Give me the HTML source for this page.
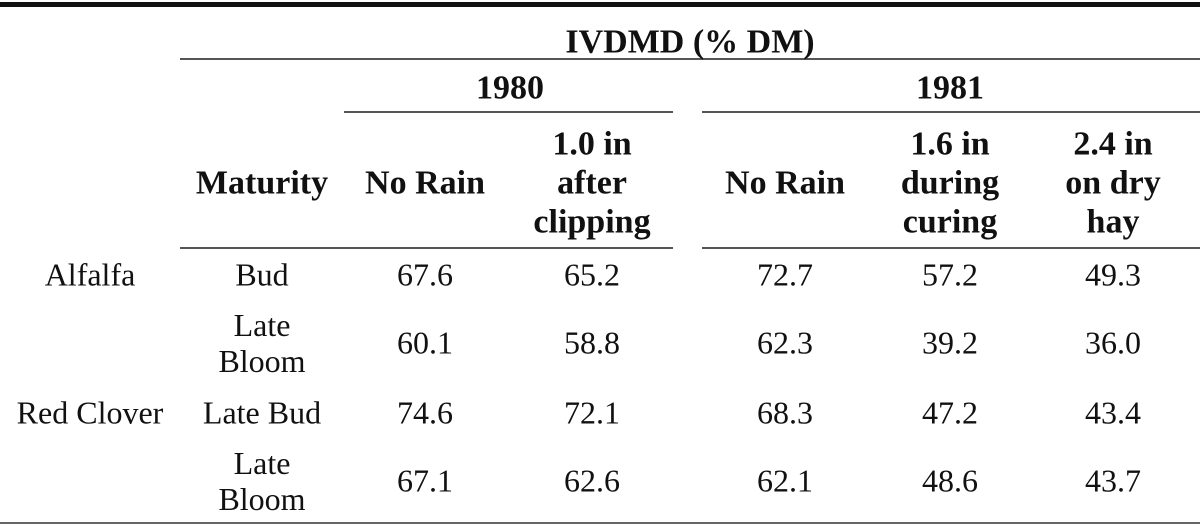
<!DOCTYPE html>
<html><head><style>
body{margin:0;width:1200px;height:532px;background:#fff;position:relative;overflow:hidden;font-family:"Liberation Serif",serif;color:#111;font-size:32px}
.l{position:absolute;background:#222}
.t{position:absolute;transform:translate(-50%,-50%);text-align:center;line-height:39px;white-space:nowrap}
.b{font-weight:bold;font-size:34px}
</style></head><body>
<div class="l" style="left:0;top:2px;width:1200px;height:5px;background:#111"></div>
<div class="l" style="left:180px;top:58px;width:1020px;height:2px;background:#555"></div>
<div class="l" style="left:344px;top:111px;width:329px;height:2px;background:#555"></div>
<div class="l" style="left:702px;top:111px;width:498px;height:2px;background:#555"></div>
<div class="l" style="left:180px;top:247px;width:493px;height:2px;background:#555"></div>
<div class="l" style="left:702px;top:247px;width:498px;height:2px;background:#555"></div>
<div class="l" style="left:0;top:522px;width:1200px;height:2px;background:#666"></div>

<div class="t b" style="left:690px;top:42px">IVDMD (% DM)</div>
<div class="t b" style="left:510px;top:88px">1980</div>
<div class="t b" style="left:950px;top:88px">1981</div>
<div class="t b" style="left:262px;top:183px">Maturity</div>
<div class="t b" style="left:425px;top:183px">No Rain</div>
<div class="t b" style="left:592px;top:183px">1.0 in<br>after<br>clipping</div>
<div class="t b" style="left:785px;top:183px">No Rain</div>
<div class="t b" style="left:950px;top:183px">1.6 in<br>during<br>curing</div>
<div class="t b" style="left:1113px;top:183px">2.4 in<br>on dry<br>hay</div>

<div class="t" style="left:90px;top:275px">Alfalfa</div>
<div class="t" style="left:262px;top:275px">Bud</div>
<div class="t" style="left:425px;top:275px">67.6</div>
<div class="t" style="left:592px;top:275px">65.2</div>
<div class="t" style="left:785px;top:275px">72.7</div>
<div class="t" style="left:950px;top:275px">57.2</div>
<div class="t" style="left:1113px;top:275px">49.3</div>

<div class="t" style="left:262px;top:343px;line-height:36px">Late<br>Bloom</div>
<div class="t" style="left:425px;top:343px">60.1</div>
<div class="t" style="left:592px;top:343px">58.8</div>
<div class="t" style="left:785px;top:343px">62.3</div>
<div class="t" style="left:950px;top:343px">39.2</div>
<div class="t" style="left:1113px;top:343px">36.0</div>

<div class="t" style="left:90px;top:413px">Red Clover</div>
<div class="t" style="left:262px;top:413px">Late Bud</div>
<div class="t" style="left:425px;top:413px">74.6</div>
<div class="t" style="left:592px;top:413px">72.1</div>
<div class="t" style="left:785px;top:413px">68.3</div>
<div class="t" style="left:950px;top:413px">47.2</div>
<div class="t" style="left:1113px;top:413px">43.4</div>

<div class="t" style="left:262px;top:481px;line-height:36px">Late<br>Bloom</div>
<div class="t" style="left:425px;top:481px">67.1</div>
<div class="t" style="left:592px;top:481px">62.6</div>
<div class="t" style="left:785px;top:481px">62.1</div>
<div class="t" style="left:950px;top:481px">48.6</div>
<div class="t" style="left:1113px;top:481px">43.7</div>
</body></html>
